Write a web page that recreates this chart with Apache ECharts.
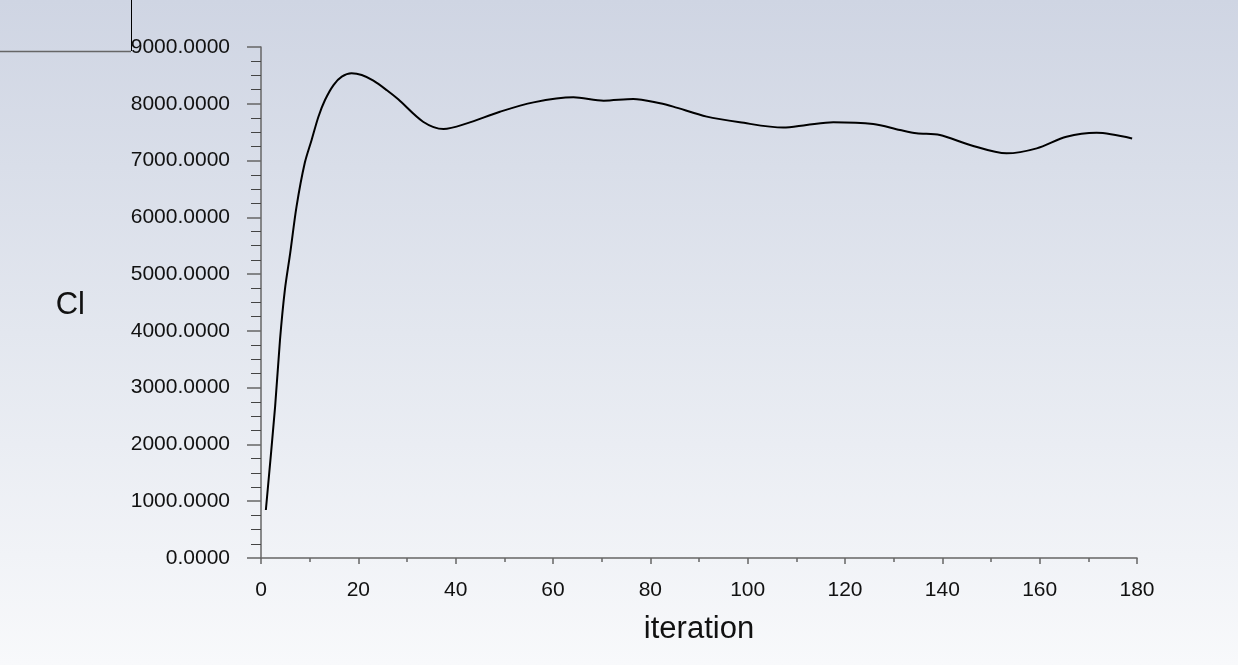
<!DOCTYPE html>
<html>
<head>
<meta charset="utf-8">
<script src="https://cdn.jsdelivr.net/npm/echarts@6/dist/echarts.min.js"></script>
<style>
html,body{margin:0;padding:0;width:1238px;height:665px;overflow:hidden;
background:linear-gradient(to bottom,#cfd5e3 0%,#e3e7ef 50%,#f8f9fb 100%);}
#chart{width:1238px;height:665px;}
</style>
</head>
<body>
<div id="chart"></div>
<script>
// Data
const iterations = [1, 2.9, 3.9, 4.9, 6.0, 7.3, 9.0, 10.4, 11.8, 13.15, 14.9, 16.6, 18.6, 20.7, 23.1, 25.8, 28.2, 33.3, 37.5, 42.3, 49.1, 56, 64.2, 70.4, 76.5, 82, 84.7, 91.6, 98.4, 107.3, 112.1, 117.6, 125.8, 131.3, 134.7, 139.5, 145.7, 153.2, 159.4, 165.5, 171.7, 179];
const clValues   = [845, 2665, 3840, 4720, 5370, 6190, 6960, 7362, 7772, 8066, 8330, 8477, 8536, 8506, 8406, 8242, 8078, 7684, 7555, 7655, 7860, 8025, 8113, 8054, 8084, 8008, 7950, 7774, 7674, 7580, 7626, 7674, 7644, 7538, 7480, 7450, 7274, 7127, 7215, 7420, 7490, 7390];
const xTicks = { min: 0, max: 180, interval: 20 };
const yTicks = { min: 0, max: 9000, interval: 1000 };
const xName = 'iteration';
const yName = 'Cl';

const chart = echarts.init(document.getElementById('chart'), null, { renderer: 'canvas' });
const axisColor = '#666666';
const fontFam = 'Liberation Sans, Arial, sans-serif';
const labelFont = { fontFamily: fontFam, fontSize: 21, color: '#111111' };

chart.setOption({
  backgroundColor: 'transparent',
  animation: false,
  grid: { left: 261, right: 101, top: 47, bottom: 107, containLabel: false },
  xAxis: {
    type: 'value',
    min: xTicks.min, max: xTicks.max, interval: xTicks.interval,
    name: xName, nameLocation: 'middle', nameGap: 56,
    nameTextStyle: { fontFamily: fontFam, fontSize: 31, color: '#111111' },
    axisLine: { show: true, lineStyle: { color: axisColor, width: 1.5 } },
    axisTick: { show: true, inside: false, length: 6, lineStyle: { color: axisColor, width: 1.5 } },
    minorTick: { show: true, splitNumber: 2, length: 4, lineStyle: { color: axisColor, width: 1.5 } },
    axisLabel: Object.assign({ margin: 22 }, labelFont),
    splitLine: { show: false }
  },
  yAxis: {
    type: 'value',
    min: yTicks.min, max: yTicks.max, interval: yTicks.interval,
    name: yName, nameLocation: 'middle', nameRotate: 0, nameGap: 176,
    nameTextStyle: { fontFamily: fontFam, fontSize: 31, color: '#111111', align: 'right', verticalAlign: 'top', lineHeight: 5 },
    axisLine: { show: true, lineStyle: { color: axisColor, width: 1.5 } },
    axisTick: { show: true, inside: false, length: 14, lineStyle: { color: axisColor, width: 1.5 } },
    minorTick: { show: true, splitNumber: 4, length: 10, lineStyle: { color: '#444444', width: 1 } },
    axisLabel: Object.assign({ margin: 31, formatter: v => v.toFixed(4) }, labelFont),
    splitLine: { show: false }
  },
  series: [{
    type: 'line',
    data: iterations.map((x, i) => [x, clValues[i]]),
    smooth: 0.3,
    showSymbol: false,
    lineStyle: { color: '#000000', width: 2 }
  }],
  graphic: [
    { type: 'line', shape: { x1: 0, y1: 51.5, x2: 131, y2: 51.5 }, style: { stroke: '#666666', lineWidth: 1.5 } },
    { type: 'line', shape: { x1: 131.5, y1: 0, x2: 131.5, y2: 51 }, style: { stroke: '#000000', lineWidth: 1 } }
  ]
});
</script>
</body>
</html>
